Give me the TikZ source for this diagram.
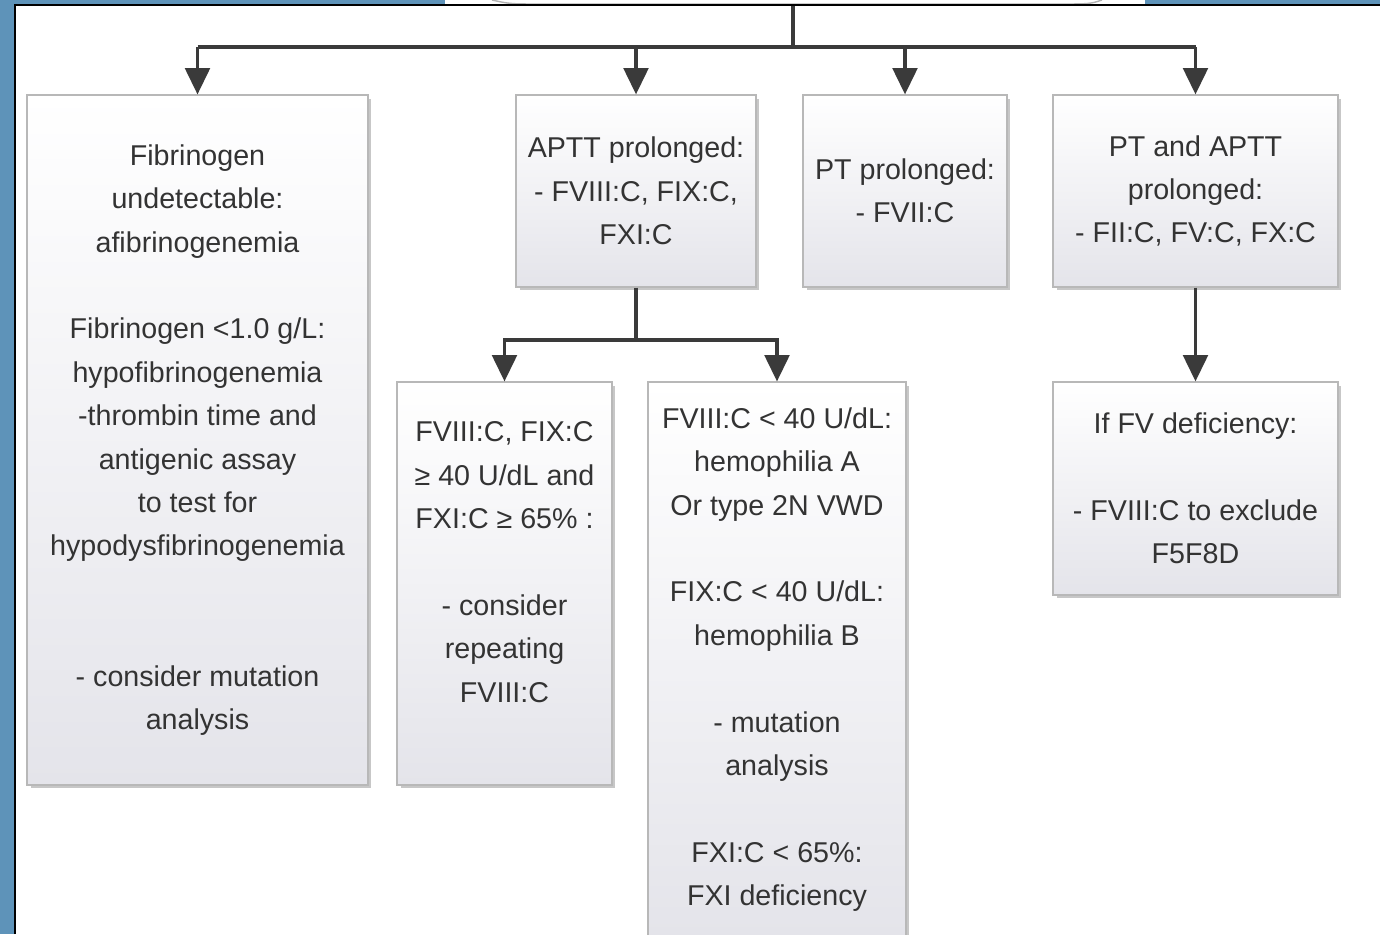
\documentclass[tikz,border=0pt]{standalone}
\usepackage{fontspec}
\setmainfont{Liberation Sans}
\usetikzlibrary{arrows.meta,shadows}
\definecolor{frameblue}{HTML}{5E93B9}
\definecolor{txtgray}{HTML}{333333}
\definecolor{boxline}{HTML}{B8B8B8}
\definecolor{boxlow}{HTML}{E4E4EA}
\definecolor{linkgray}{HTML}{3A3A3A}
\begin{document}
\begin{tikzpicture}[x=0.02cm,y=-0.02cm,
  box/.style={draw=boxline, line width=0.7pt, top color=white, bottom color=boxlow,
    drop shadow={shadow xshift=0.07cm, shadow yshift=-0.07cm, fill=black!22, opacity=1},
    inner sep=0pt, align=center, text=txtgray, font=\fontsize{16.3pt}{24.7pt}\selectfont},
  link/.style={draw=linkgray, line width=2pt},
  arr/.style={link, -{Triangle[width=14pt,length=15pt]}}]
\useasboundingbox (0,0) rectangle (1380,934);
\fill[frameblue] (0,0) rectangle (1380,934);
\fill[white] (15,5) rectangle (1380,934);
\fill[white] (445,0) rectangle (1145,5);
\draw[black!30, line width=0.8pt] (492,0) .. controls (510,4) .. (545,4) -- (1055,4) .. controls (1090,4) .. (1102,0);
\draw[black, line width=1.5pt] (15,934) -- (15,5) -- (1380,5);

\node[box, minimum width=6.82cm, minimum height=13.8cm] (fib) at (197.5,440)
  {Fibrinogen\\ undetectable:\\ afibrinogenemia\\[24.7pt]
   Fibrinogen <1.0 g/L:\\ hypofibrinogenemia\\ -thrombin time and\\ antigenic assay\\ to test for\\ hypodysfibrinogenemia\\[49.4pt]
   - consider mutation\\ analysis};
\node[box, minimum width=4.8cm, minimum height=3.84cm] (aptt) at (636,191)
  {APTT prolonged:\\ - FVIII:C, FIX:C,\\ FXI:C};
\node[box, minimum width=4.08cm, minimum height=3.84cm] (pt) at (905,191)
  {PT prolonged:\\ - FVII:C};
\node[box, minimum width=5.7cm, minimum height=3.84cm] (both) at (1195.5,191)
  {PT and APTT\\ prolonged:\\ - FII:C, FV:C, FX:C};
\node[box, minimum width=4.3cm, minimum height=8.06cm] (normal) at (504.5,583.5)
  {FVIII:C, FIX:C\\ ≥ 40 U/dL and\\ FXI:C ≥ 65\% :\\[24.7pt]
   - consider\\ repeating\\ FVIII:C\\ \mbox{}};
\node[box, minimum width=5.16cm, minimum height=11.1cm] (low) at (777,659.5)
  {FVIII:C < 40 U/dL:\\ hemophilia A\\ Or type 2N VWD\\[24.7pt]
   FIX:C < 40 U/dL:\\ hemophilia B\\[24.7pt]
   - mutation\\ analysis\\[24.7pt]
   FXI:C < 65\%:\\ FXI deficiency};
\node[box, minimum width=5.7cm, minimum height=4.26cm] (fv) at (1195.5,488.5)
  {If FV deficiency:\\[24.7pt]
   - FVIII:C to exclude\\ F5F8D};

\coordinate (topin) at (793,6);
\coordinate (split) at (793,47);
\coordinate (split2) at (636,340);
\draw[link] (topin) -- (split);
\draw[link] (fib.north |- split) -- (both.north |- split);
\foreach \n in {fib,aptt,pt,both}
  \draw[arr] (\n.north |- split) -- (\n.north);
\draw[link] (aptt) -- (split2);
\draw[arr] (split2) -| (normal);
\draw[arr] (split2) -| (low);
\draw[arr] (both) -- (fv);
\end{tikzpicture}
\end{document}
